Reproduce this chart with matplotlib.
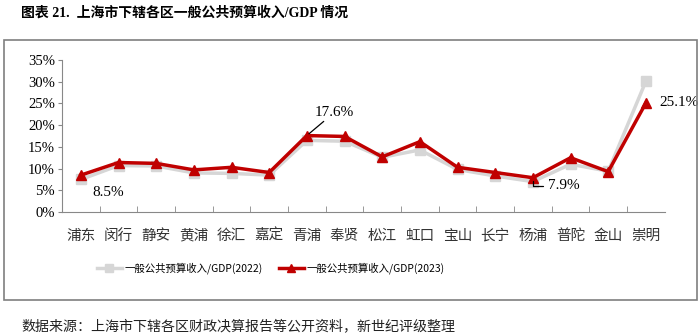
import matplotlib
matplotlib.use("Agg")
import matplotlib.pyplot as plt
from matplotlib.patches import Rectangle
from matplotlib.ticker import FixedLocator, PercentFormatter

plt.rcParams['font.family'] = ['Liberation Serif', 'Noto Sans CJK SC', 'DejaVu Sans']

districts = ['浦东', '闵行', '静安', '黄浦', '徐汇', '嘉定', '青浦', '奉贤', '松江',
             '虹口', '宝山', '长宁', '杨浦', '普陀', '金山', '崇明']
ratio_2022 = [7.5, 10.7, 10.6, 9.0, 8.9, 8.5, 16.5, 16.3, 12.6,
              14.3, 9.8, 8.3, 7.0, 11.0, 9.4, 30.1]
ratio_2023 = [8.5, 11.4, 11.2, 9.7, 10.3, 9.1, 17.6, 17.4, 12.7,
              16.2, 10.3, 9.1, 7.9, 12.5, 9.3, 25.1]
label_2022 = '一般公共预算收入/GDP(2022)'
label_2023 = '一般公共预算收入/GDP(2023)'

fig = plt.figure(figsize=(7, 3.35), dpi=100)

# outer frame
fig.patches.append(Rectangle((0.006, 0.104), 0.989, 0.777, transform=fig.transFigure,
                             fill=False, edgecolor='#7f7f7f', linewidth=1.2))

fig.text(0.03, 0.963, '图表 21.  上海市下辖各区一般公共预算收入/GDP 情况',
         fontsize=10, fontweight='bold', va='center', ha='left',
         family=['Liberation Serif', 'Noto Sans CJK SC'])
fig.text(0.03, 0.025, '数据来源：上海市下辖各区财政决算报告等公开资料，新世纪评级整理',
         fontsize=10.1, va='center', ha='left', color='#222222',
         family=['Noto Sans CJK SC'])

ax = fig.add_axes([0.0886, 0.367, 0.861, 0.454])
x = list(range(len(districts)))
ax.plot(x, ratio_2022, color='#d6d6d6', marker='s', markersize=6.5, linewidth=2.5,
        label=label_2022, zorder=2)
ax.plot(x, ratio_2023, color='#c00000', marker='^', markersize=7.5, linewidth=2.5,
        label=label_2023, zorder=3)

ax.set_xlim(-0.5, len(districts) - 0.5)
ax.set_ylim(0, 35)
ax.set_yticks(range(0, 36, 5))
ax.yaxis.set_major_formatter(PercentFormatter(decimals=0))
ax.set_xticks(x)
ax.set_xticklabels(districts, family=['Noto Sans CJK SC'], fontsize=10.5, color='#333333')
ax.xaxis.set_minor_locator(FixedLocator([i + 0.5 for i in range(len(districts) - 1)]))
ax.tick_params(axis='x', which='major', length=0, pad=12)
ax.tick_params(axis='x', which='minor', length=4, direction='in', color='#888888')
ax.tick_params(axis='y', length=3, color='#888888', labelsize=10.5, pad=2)

for side in ['top', 'right']:
    ax.spines[side].set_visible(False)
for side in ['left', 'bottom']:
    ax.spines[side].set_color('#888888')

# value labels
ax.annotate('8.5%', xy=(0, ratio_2023[0]), xytext=(0.72, 4.6), fontsize=11,
            ha='center', va='center')
ax.annotate('17.6%', xy=(6, ratio_2023[6]), xytext=(6.74, 23.0), fontsize=11,
            ha='center', va='center',
            arrowprops=dict(arrowstyle='-', color='black', lw=0.9, shrinkA=0, shrinkB=2))
ax.annotate('7.9%', xy=(12, ratio_2023[12]), xytext=(12.39, 6.0), fontsize=11,
            ha='left', va='center',
            arrowprops=dict(arrowstyle='-', color='black', lw=0.9, shrinkA=1, shrinkB=2,
                            connectionstyle='angle,angleA=0,angleB=90,rad=0'))
ax.text(15.36, 25.1, '25.1%', fontsize=11, ha='left', va='center')

fig.legend(loc='center left', bbox_to_anchor=(0.138, 0.2), ncol=2, frameon=False,
           borderaxespad=0, borderpad=0,
           prop={'family': ['Noto Sans CJK SC'], 'size': 7.5}, columnspacing=1.5,
           handlelength=2.4, handletextpad=0.3, markerscale=0.8)

fig.savefig('out.png', dpi=100)
